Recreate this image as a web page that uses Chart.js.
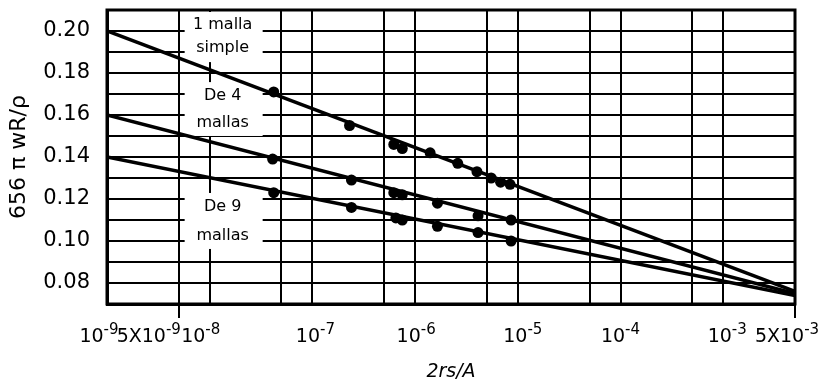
<!DOCTYPE html>
<html>
<head>
<meta charset="utf-8">
<script src="https://cdn.jsdelivr.net/npm/chart.js@4"></script>
<style>
html, body { margin: 0; padding: 0; background: #fff; }
#wrap { width: 828px; height: 383px; }
</style>
</head>
<body>
<div id="wrap"><canvas id="resChart" width="828" height="383"></canvas></div>
<script>
// x gridlines (log) and labelled ticks
const xGrid = [1e-9, 5e-9, 1e-8, 5e-8, 1e-7, 5e-7, 1e-6, 5e-6, 1e-5, 5e-5, 1e-4, 5e-4, 1e-3, 5e-3];
const xTickValues = [1e-9, 5e-9, 1e-8, 1e-7, 1e-6, 1e-5, 1e-4, 1e-3, 5e-3];
const xTickBase = ['10', '5X10', '10', '10', '10', '10', '10', '10', '5X10'];
const xTickExp = ['-9', '-9', '-8', '-7', '-6', '-5', '-4', '-3', '-3'];
const xTickShift = [-8, -30, -9, 3, 1, 5, 0, 4, -8];

// fitted straight lines, drawn edge to edge
const fitX = [1e-9, 5e-3];
const fit1 = [0.200, 0.076];
const fit4 = [0.160, 0.075];
const fit9 = [0.140, 0.074];

// measured points
const pts1X = [4.2e-8, 2.3e-7, 6.2e-7, 7.5e-7, 1.4e-6, 2.6e-6, 4.0e-6, 5.5e-6, 6.8e-6, 8.4e-6];
const pts1Y = [0.171, 0.155, 0.146, 0.144, 0.142, 0.137, 0.133, 0.130, 0.128, 0.127];
const pts4X = [4.1e-8, 2.4e-7, 6.2e-7, 7.5e-7, 1.65e-6, 4.1e-6, 8.6e-6];
const pts4Y = [0.139, 0.129, 0.123, 0.122, 0.118, 0.112, 0.110];
const pts9X = [4.2e-8, 2.4e-7, 6.5e-7, 7.5e-7, 1.65e-6, 4.1e-6, 8.6e-6];
const pts9Y = [0.123, 0.116, 0.111, 0.110, 0.107, 0.104, 0.100];

// y gridlines every 0.01, labels on even hundredths
const yTicks = [0.07, 0.08, 0.09, 0.10, 0.11, 0.12, 0.13, 0.14, 0.15, 0.16, 0.17, 0.18, 0.19, 0.20, 0.21];

// boxed curve labels: [line1, line2, x, y1, y2]
const curveLabels = [
  ['1 malla', 'simple', 1.25e-8, 0.2029, 0.1919],
  ['De 4', 'mallas', 1.25e-8, 0.1690, 0.1562],
  ['De 9', 'mallas', 1.25e-8, 0.1162, 0.1024]
];

const FONT = '"DejaVu Sans", sans-serif';

function pairs(xs, ys) {
  return xs.map((x, i) => ({ x: x, y: ys[i] }));
}

function fitLine(ys) {
  return {
    data: pairs(fitX, ys),
    showLine: true,
    borderColor: '#000',
    borderWidth: 3.5,
    pointRadius: 0
  };
}

function dots(xs, ys) {
  return {
    data: pairs(xs, ys),
    showLine: false,
    backgroundColor: '#000',
    borderColor: '#000',
    pointRadius: 5.5,
    pointBorderWidth: 0
  };
}

const extras = {
  id: 'extras',
  beforeDatasetsDraw(chart) {
    const c = chart.ctx, xs = chart.scales.x, ys = chart.scales.y;
    c.save();
    c.font = '16px ' + FONT;
    c.textAlign = 'center';
    c.textBaseline = 'middle';
    curveLabels.forEach(l => {
      const cx = xs.getPixelForValue(l[2]);
      const y1 = ys.getPixelForValue(l[3]);
      const y2 = ys.getPixelForValue(l[4]);
      c.fillStyle = '#fff';
      c.fillRect(cx - 35, Math.max(y1 - 14, chart.chartArea.top + 2), 78, y2 - y1 + 27);
      c.fillStyle = '#000';
      c.fillText(l[0], cx + 3, y1);
      c.fillText(l[1], cx + 3, y2);
    });
    c.restore();
  },
  afterDraw(chart) {
    const c = chart.ctx, a = chart.chartArea, xs = chart.scales.x;
    c.save();
    c.strokeStyle = '#000';
    c.lineWidth = 3;
    c.strokeRect(a.left, a.top, a.right - a.left, a.bottom - a.top);
    c.fillStyle = '#000';
    c.textBaseline = 'alphabetic';
    c.textAlign = 'left';
    const baseY = a.bottom + 38;
    xTickValues.forEach((v, i) => {
      c.font = '19px ' + FONT;
      const wb = c.measureText(xTickBase[i]).width;
      c.font = '15px ' + FONT;
      const we = c.measureText(xTickExp[i]).width;
      const x0 = xs.getPixelForValue(v) + xTickShift[i] - (wb + we) / 2;
      c.font = '19px ' + FONT;
      c.fillText(xTickBase[i], x0, baseY);
      c.font = '15px ' + FONT;
      c.fillText(xTickExp[i], x0 + wb, baseY - 8);
    });
    c.restore();
  }
};

new Chart(document.getElementById('resChart'), {
  type: 'scatter',
  data: {
    datasets: [
      fitLine(fit1), fitLine(fit4), fitLine(fit9),
      dots(pts1X, pts1Y), dots(pts4X, pts4Y), dots(pts9X, pts9Y)
    ]
  },
  options: {
    responsive: false,
    animation: false,
    layout: { padding: { left: 0, right: 33, top: 10, bottom: 0 } },
    plugins: { legend: { display: false }, tooltip: { enabled: false } },
    scales: {
      x: {
        type: 'logarithmic',
        min: 1e-9,
        max: 5e-3,
        afterBuildTicks: s => { s.ticks = xGrid.map(v => ({ value: v })); },
        afterFit: s => { s.height = 79; s.paddingLeft = 0; s.paddingRight = 0; },
        ticks: { callback: () => '', autoSkip: false, maxRotation: 0 },
        grid: {
          color: '#000',
          lineWidth: 2,
          tickLength: 14,
          tickWidth: 2,
          tickColor: ctx => (ctx.tick && (ctx.tick.value === 5e-9 || ctx.tick.value === 5e-3)) ? '#000' : 'rgba(0,0,0,0)'
        },
        border: { color: '#000', width: 3 },
        title: {
          display: true,
          text: '2rs/A',
          color: '#000',
          font: { family: FONT, size: 19, style: 'italic' },
          padding: { top: 0, bottom: 0 }
        }
      },
      y: {
        min: 0.07,
        max: 0.21,
        afterBuildTicks: s => { s.ticks = yTicks.map(v => ({ value: v })); },
        afterFit: s => { s.width = 107; s.paddingTop = 0; s.paddingBottom = 0; },
        ticks: {
          autoSkip: false,
          color: '#000',
          padding: 17,
          font: { family: FONT, size: 21 },
          callback: v => (Math.round(v * 100) % 2 === 0 ? v.toFixed(2) : '')
        },
        grid: { color: '#000', lineWidth: 2, drawTicks: false },
        border: { color: '#000', width: 3 },
        title: {
          display: true,
          text: '656 π wR/ρ',
          color: '#000',
          font: { family: FONT, size: 22 },
          padding: { top: 6, bottom: 0 }
        }
      }
    }
  },
  plugins: [extras]
});
</script>
</body>
</html>
